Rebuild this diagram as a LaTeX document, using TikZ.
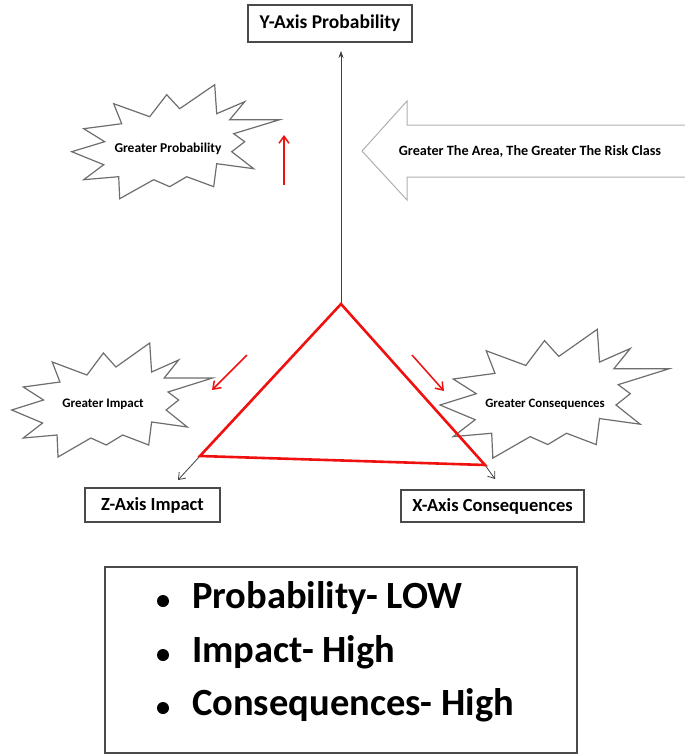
\documentclass[tikz,border=0pt]{standalone}
\usepackage{fontspec}
\setmainfont{Carlito}
\usetikzlibrary{arrows.meta}
\definecolor{burstgray}{HTML}{6E6E6E}
\definecolor{arrowgray}{HTML}{B0B0B0}
\definecolor{boxgray}{HTML}{4A4A4A}
\definecolor{axred}{HTML}{F01010}
\tikzset{
  burstline/.style={draw=burstgray, line width=1.2pt, line join=miter, fill=white},
  burst/.pic={\draw[burstline] (0,0)--(33,-10)--(12,-23)--(50,-28)--(42,-48)--(78,-35)--(95,-57)--(108,-43)--(143,-67)--(145,-38)--(173,-50)--(158,-32)--(208,-32)--(162,-18)--(173,-10)--(160,0)--(182,17)--(145,12)--(142,35)--(115,25)--(98,35)--(82,28)--(48,47)--(47,25)--(12,28)--(32,13)--cycle;},
  axisbox/.style={draw=boxgray, line width=1.3pt, fill=white, inner sep=0pt, font=\fontsize{18.5}{22}\selectfont\bfseries},
  bursttext/.style={inner sep=0pt, font=\fontsize{13}{15}\selectfont\bfseries},
  axisline/.style={draw=black!75, line width=0.8pt},
  tri/.style={draw=axred, line width=2.6pt, line join=miter},
  redarrow/.style={draw=axred, line width=1.5pt, -{Straight Barb[length=7pt,width=10pt]}},
  listtext/.style={anchor=base west, inner sep=0pt, font=\fontsize{38.5}{44}\selectfont\bfseries},
  bulletdot/.style={circle, fill=black, inner sep=0pt, minimum size=12pt}
}
\begin{document}
\begin{tikzpicture}[x=1pt,y=-1pt]
\useasboundingbox (0,0) rectangle (685,755);
% big hollow arrow
\draw[draw=arrowgray, line width=1pt, fill=white] (690,125) -- (407,125) -- (407,101) -- (362,151) -- (407,200) -- (407,177) -- (690,177);
\node[bursttext, font=\fontsize{14.2}{16}\selectfont\bfseries] (areatext) at (530,151) {Greater The Area, The Greater The Risk Class};
% bursts
\pic at (71.7,151.7) {burst};
\node[bursttext, font=\fontsize{13.5}{15}\selectfont\bfseries] (gprob) at (168,149) {Greater Probability};
\pic[xscale=0.965] at (11.7,410) {burst};
\node[bursttext] (gimp) at (103,404) {Greater Impact};
\pic[xscale=1.1,yscale=1.13] at (440,405) {burst};
\node[bursttext, font=\fontsize{12.8}{15}\selectfont\bfseries] (gcons) at (545,404) {Greater Consequences};
% axis boxes
\node[axisbox, minimum width=164pt, minimum height=37pt, font=\fontsize{19.5}{22}\selectfont\bfseries] (ybox) at (330,23.5) {Y-Axis Probability};
\node[axisbox, minimum width=135pt, minimum height=34pt] (zbox) at (152.5,505) {Z-Axis Impact};
\node[axisbox, minimum width=183pt, minimum height=32pt] (xbox) at (492.5,506) {X-Axis Consequences};
% axes
\coordinate (apex) at (341,304);
\coordinate (zv) at (200,456);
\coordinate (xv) at (485,465);
\coordinate (ytip) at (341,51);
\coordinate (ztip) at (178,480);
\coordinate (xtip) at (495,479);
\draw[axisline, -{Stealth[length=7pt,width=5pt]}] (apex) -- (ytip);
\draw[axisline, -{Straight Barb[length=6pt,width=9pt]}] (zv) -- (ztip);
\draw[axisline, -{Straight Barb[length=6pt,width=9pt]}] (xv) -- (xtip);
% triangle
\draw[tri] (apex) -- (zv) -- (xv) -- cycle;
% red arrows
\coordinate (ra1s) at (284,185); \coordinate (ra1e) at (284,135);
\coordinate (ra2s) at (247,355); \coordinate (ra2e) at (212,390);
\coordinate (ra3s) at (412,355); \coordinate (ra3e) at (444,391);
\draw[redarrow] (ra1s) -- (ra1e);
\draw[redarrow] (ra2s) -- (ra2e);
\draw[redarrow] (ra3s) -- (ra3e);
% legend box
\node[draw=boxgray, line width=1.3pt, minimum width=472pt, minimum height=186pt, inner sep=0pt] (legend) at (341,660) {};
\node[bulletdot] (b1) at (163,601) {};
\node[bulletdot] (b2) at (163,655) {};
\node[bulletdot] (b3) at (163,708) {};
\node[listtext] (l1) at (192,608) {Probability- LOW};
\node[listtext] (l2) at (192,662) {Impact- High};
\node[listtext] (l3) at (192,715) {Consequences- High};
\end{tikzpicture}
\end{document}
